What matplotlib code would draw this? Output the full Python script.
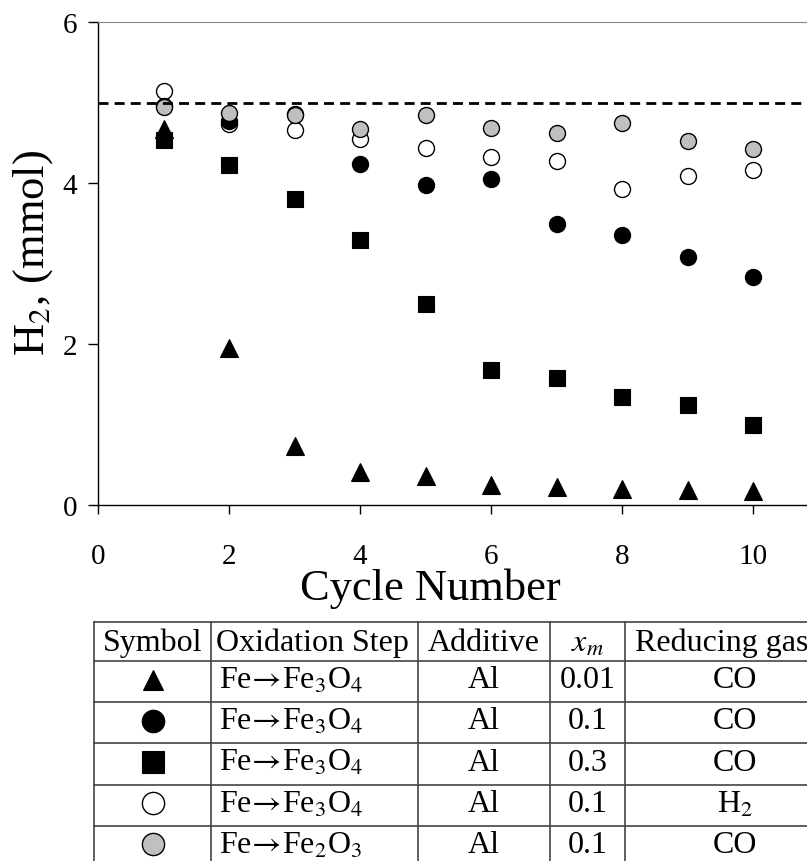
import numpy as np
import matplotlib
matplotlib.use("Agg")
import matplotlib.pyplot as plt

plt.rcParams['font.family'] = ['Liberation Serif', 'DejaVu Serif']
plt.rcParams['mathtext.fontset'] = 'stix'

# H2 produced per cycle (mmol)
cycles = np.arange(1, 11)
tri_al001_co = [4.67, 1.95, 0.73, 0.41, 0.36, 0.25, 0.22, 0.20, 0.19, 0.17]
circ_al01_co = [4.96, 4.77, 4.86, 4.23, 3.97, 4.05, 3.49, 3.36, 3.08, 2.83]
sq_al03_co = [4.53, 4.22, 3.80, 3.29, 2.50, 1.68, 1.58, 1.34, 1.24, 0.99]
open_al01_h2 = [5.14, 4.73, 4.66, 4.55, 4.43, 4.32, 4.27, 3.93, 4.09, 4.16]
gray_al01_fe2o3 = [4.94, 4.87, 4.84, 4.67, 4.85, 4.68, 4.62, 4.75, 4.52, 4.42]
theoretical = 5.0

# table contents
tbl_header = ['Symbol', 'Oxidation Step', 'Additive', '$x_m$', 'Reducing gas']
tbl_steps = [r'Fe$\!\rightarrow\!$Fe$_3$O$_4$'] * 4 + [r'Fe$\!\rightarrow\!$Fe$_2$O$_3$']
tbl_additive = ['Al'] * 5
tbl_xm = ['0.01', '0.1', '0.3', '0.1', '0.1']
tbl_gas = ['CO', 'CO', 'CO', 'H$_2$', 'CO']

GRAY = '#c0c0c0'
styles = [
    dict(marker='s', ms=11.5, mfc='k', mec='k', mew=0.8),
    dict(marker='^', ms=12.5, mfc='k', mec='k', mew=0.8),
    dict(marker='o', ms=11.5, mfc='white', mec='k', mew=1.0),
    dict(marker='o', ms=11.5, mfc='k', mec='k', mew=1.0),
    dict(marker='o', ms=11.5, mfc=GRAY, mec='k', mew=1.0),
]
series = [sq_al03_co, tri_al001_co, open_al01_h2, circ_al01_co, gray_al01_fe2o3]

W, H = 807, 862
fig = plt.figure(figsize=(W / 100, H / 100), dpi=100)
ax = fig.add_axes([98 / W, 1 - 506 / H, 1 - 98 / W, (506 - 23) / H])

for vals, st in zip(series, styles):
    ax.plot(cycles, vals, ls='none', **st, zorder=3)

ax.axhline(theoretical, color='k', lw=2, dashes=(3.6, 2.2), zorder=4)

ax.set_xlim(0, 10.82)
ax.set_ylim(0, 6)
ax.set_xticks([0, 2, 4, 6, 8, 10])
ax.set_yticks([0, 2, 4, 6])
ax.tick_params(axis='x', direction='out', length=6.5, width=1, labelsize=21, pad=21)
ax.tick_params(axis='y', direction='out', length=7, width=1, labelsize=21, pad=8)
ax.spines['right'].set_visible(False)
ax.spines['top'].set_color('#888888')
ax.spines['left'].set_linewidth(1)
ax.spines['bottom'].set_linewidth(1)

ax.set_xlabel('Cycle Number', fontsize=32)
ax.xaxis.set_label_coords((430 - 98) / (W - 98), -(589 - 506) / (506 - 23))
ax.xaxis.label.set_va('center')
ax.set_ylabel('H$_2$, (mmol)', fontsize=32)
ax.yaxis.set_label_coords(-(98 - 33) / (W - 98), (506 - 253) / (506 - 23))
ax.yaxis.label.set_va('center')

# table drawn in pixel coordinates
tax = fig.add_axes([0, 0, 1, 1])
tax.set_xlim(0, W)
tax.set_ylim(H, 0)
tax.axis('off')

col_x = [94, 211, 418, 550, 625, 845]
row_y = [623, 662, 703, 744, 786, 827, 868]
lc = '#444444'
for yy in row_y:
    tax.plot([col_x[0], col_x[-1]], [yy, yy], color=lc, lw=1.2)
for xx in col_x:
    tax.plot([xx, xx], [row_y[0], row_y[-1]], color=lc, lw=1.2)

fs = 23
hb = (row_y[0] + row_y[1]) / 2 + 9
tax.text((col_x[0] + col_x[1]) / 2, hb, tbl_header[0], ha='center', va='baseline', fontsize=fs)
tax.text(col_x[1] + 5, hb, tbl_header[1], ha='left', va='baseline', fontsize=fs)
tax.text((col_x[2] + col_x[3]) / 2, hb, tbl_header[2], ha='center', va='baseline', fontsize=fs)
tax.text((col_x[3] + col_x[4]) / 2, hb, tbl_header[3], ha='center', va='baseline', fontsize=fs)
tax.text(col_x[4] + 10, hb, tbl_header[4], ha='left', va='baseline', fontsize=fs)

sym_styles = [styles[1], styles[3], styles[0], styles[2], styles[4]]
sym_sizes = [14.5, 16, 15.5, 16, 16]
for i in range(5):
    cy = (row_y[i + 1] + row_y[i + 2]) / 2
    base = cy + 6
    st = dict(sym_styles[i])
    st['ms'] = sym_sizes[i]
    tax.plot([(col_x[0] + col_x[1]) / 2], [cy - 2], ls='none', **st)
    tax.text(col_x[1] + 8, base, tbl_steps[i], ha='left', va='baseline', fontsize=fs)
    tax.text((col_x[2] + col_x[3]) / 2, base, tbl_additive[i], ha='center', va='baseline', fontsize=fs)
    tax.text((col_x[3] + col_x[4]) / 2, base, tbl_xm[i], ha='center', va='baseline', fontsize=fs)
    tax.text((col_x[4] + col_x[5]) / 2, base, tbl_gas[i], ha='center', va='baseline', fontsize=fs)

fig.savefig('out.png', dpi=100)
